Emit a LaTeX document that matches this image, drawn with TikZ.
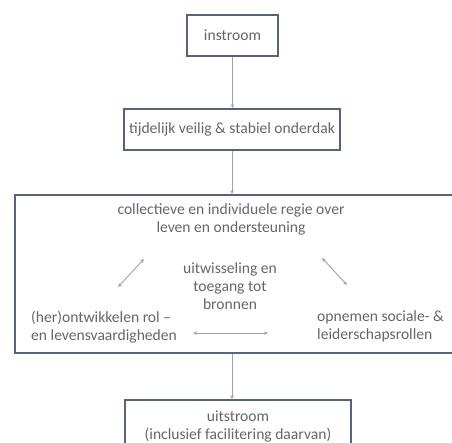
\documentclass[tikz,border=0pt]{standalone}
\usepackage{fontspec}
\setmainfont{Carlito}
\usetikzlibrary{arrows.meta}
\usetikzlibrary{positioning}
\definecolor{mframe}{rgb}{0.33, 0.39, 0.50}
\definecolor{mtext}{rgb}{0.40, 0.40, 0.40}
\definecolor{marrow}{rgb}{0.64, 0.64, 0.64}
\tikzset{box/.style = {draw = mframe, line width = 1.8pt, fill = white, text = mtext, align = center, inner sep = 0, font = \fontsize{15.6}{18}\selectfont}}
\tikzset{txt/.style = {text = mtext, align = center, inner sep = 0, font = \fontsize{15.6}{18}\selectfont}}
\tikzset{flow/.style = {draw = marrow, line width = 0.7pt, -{Stealth[length = 4pt, width = 3.5pt]}}}
\tikzset{twoway/.style = {draw = marrow, line width = 0.9pt, {Stealth[length = 4pt, width = 3.5pt]}-{Stealth[length = 4pt, width = 3.5pt]}}}

\begin{document}
\begin{tikzpicture}[x = 1pt, y = -1pt]
      \useasboundingbox (0, 0) rectangle (452, 443);
      \clip (0, 0) rectangle (452, 443);

      \node [box, minimum width = 91pt, minimum height = 41pt] (instroom) at (232.5, 35.5) {instroom};
      \node [box, minimum width = 216pt, minimum height = 41pt] (onderdak) at (232, 129.5) {tijdelijk veilig \& stabiel onderdak};
      \node [box, minimum width = 460pt, minimum height = 158pt] (regie) at (245, 274) {};
      \node [box, minimum width = 226pt, minimum height = 52pt] (uitstroom) at (238, 426) {uitstroom\\(inclusief facilitering daarvan)};

      \draw [flow] (instroom.south) -- (instroom.south |- onderdak.north);
      \draw [flow] (onderdak.south) -- (onderdak.south |- regie.north);
      \draw [flow] (onderdak.south |- regie.south) -- (onderdak.south |- uitstroom.north);

      \node [txt] (collectief) at (231, 219) {collectieve en individuele regie over\\leven en ondersteuning};
      \node [txt] (bronnen) at (230, 286) {uitwisseling en\\toegang tot\\bronnen};
      \node [txt, anchor = west, align = left] (rol) at (31, 327) {(her)ontwikkelen rol --\\en levensvaardigheden};
      \node [txt, anchor = west, align = left] (leiderschap) at (317, 326) {opnemen sociale- \&\\leiderschapsrollen};

      \coordinate (links-a) at (118, 287);
      \coordinate (links-b) at (144, 259);
      \coordinate (rechts-a) at (322, 258);
      \coordinate (rechts-b) at (347, 285);
      \coordinate (onder-a) at (193, 333);
      \coordinate (onder-b) at (268, 333);

      \draw [twoway] (links-a) -- (links-b);
      \draw [twoway] (rechts-a) -- (rechts-b);
      \draw [twoway] (onder-a) -- (onder-b);
\end{tikzpicture}
\end{document}
